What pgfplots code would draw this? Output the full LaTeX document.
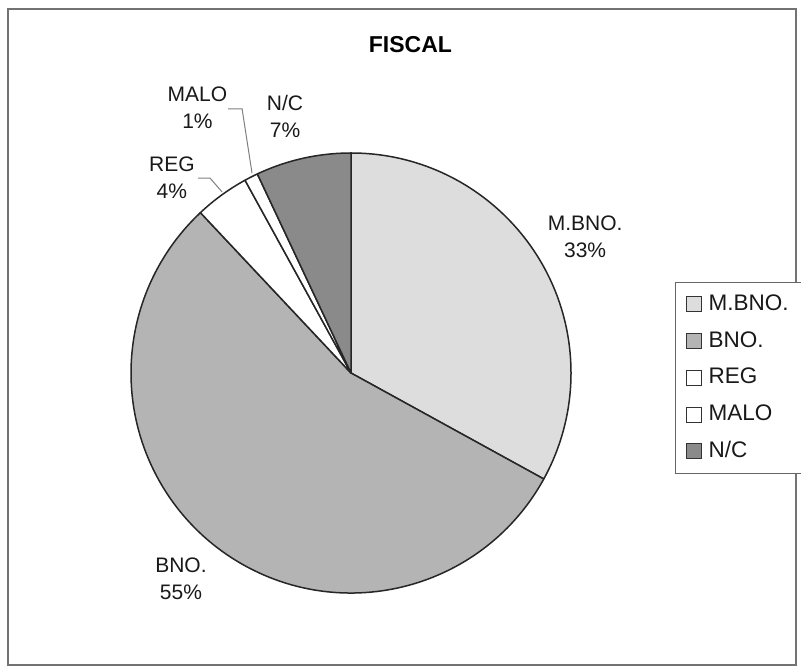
\documentclass[border=0pt]{standalone}
\usepackage{fontspec}
\setmainfont{Liberation Sans}
\usepackage{pgfplots}
\usepackage{pgfplotstable}
\pgfplotsset{compat=1.18}
\definecolor{piecol0}{HTML}{DCDDDC}
\definecolor{piecol1}{HTML}{B4B4B4}
\definecolor{piecol2}{HTML}{FFFFFF}
\definecolor{piecol3}{HTML}{FFFFFF}
\definecolor{piecol4}{HTML}{8A8A8A}
\tikzset{lbl/.style={align=center, font=\fontsize{10.5}{13.5}\selectfont, text=black!90, inner sep=0pt}}
\pgfplotstableread{
label value
M.BNO. 33
BNO. 55
REG 4
MALO 1
N/C 7
}\piedata
\begin{document}
\begin{tikzpicture}
\useasboundingbox (0,0) rectangle (400.5pt,334.5pt);
\fill[white] (0,0) rectangle (400.5pt,334.5pt);
\draw[black!55, line width=0.6pt] (4pt,2pt) rectangle (398pt,330pt);
\begin{axis}[
  at={(175.5pt,148pt)}, anchor=origin,
  x=110pt, y=110pt, xmin=-1, xmax=1, ymin=-1, ymax=1,
  hide axis, clip=false,
  legend image code/.code={\filldraw[#1] (0pt,-3.75pt) rectangle (7.5pt,3.75pt);},
  legend cell align=left,
  legend style={at={(1.236,0.707)}, anchor=north west, draw=black!60,
    font=\fontsize{11.25}{12}\selectfont, text=black!90, inner xsep=5.5pt, inner ysep=4pt,
    nodes={inner sep=1.8pt, text height=8.2pt, text depth=2pt},
    column sep=1.5pt, row sep=4.6pt},
]
\pgfmathsetmacro\cur{90}
\pgfplotsforeachungrouped \i in {0,...,4}{%
  \pgfplotstablegetelem{\i}{value}\of\piedata
  \pgfmathsetmacro\nxt{\cur-3.6*\pgfplotsretval}
  \edef\tmp{\noexpand\filldraw[fill=piecol\i, draw=black!85, line width=0.75pt, line join=round] (axis cs:0,0) -- (axis cs:{cos(\cur)},{sin(\cur)}) arc[start angle=\cur, end angle=\nxt, radius=110pt] -- cycle;}%
  \tmp
  \global\let\cur\nxt
}
\addlegendimage{fill=piecol0, draw=black!80}\addlegendentry{M.BNO.}
\addlegendimage{fill=piecol1, draw=black!80}\addlegendentry{BNO.}
\addlegendimage{fill=piecol2, draw=black!80}\addlegendentry{REG}
\addlegendimage{fill=piecol3, draw=black!80}\addlegendentry{MALO}
\addlegendimage{fill=piecol4, draw=black!80}\addlegendentry{N/C}
\node[font=\bfseries\fontsize{11.5}{13}\selectfont] at (axis cs:0.27,1.491) {FISCAL};
\node[lbl] at (axis cs:1.064,0.620) {M.BNO.\\33\%};
\node[lbl] at (axis cs:-0.773,-0.936) {BNO.\\55\%};
\node[lbl] at (axis cs:-0.814,0.889) {REG\\4\%};
\node[lbl] at (axis cs:-0.698,1.207) {MALO\\1\%};
\node[lbl] at (axis cs:-0.300,1.166) {N/C\\7\%};
\draw[black!50, line width=0.5pt] (axis cs:-0.559,1.2) -- (axis cs:-0.495,1.2) -- (axis cs:-0.45,0.909);
\draw[black!50, line width=0.5pt] (axis cs:-0.695,0.886) -- (axis cs:-0.641,0.886) -- (axis cs:-0.586,0.823);
\end{axis}
\end{tikzpicture}
\end{document}
